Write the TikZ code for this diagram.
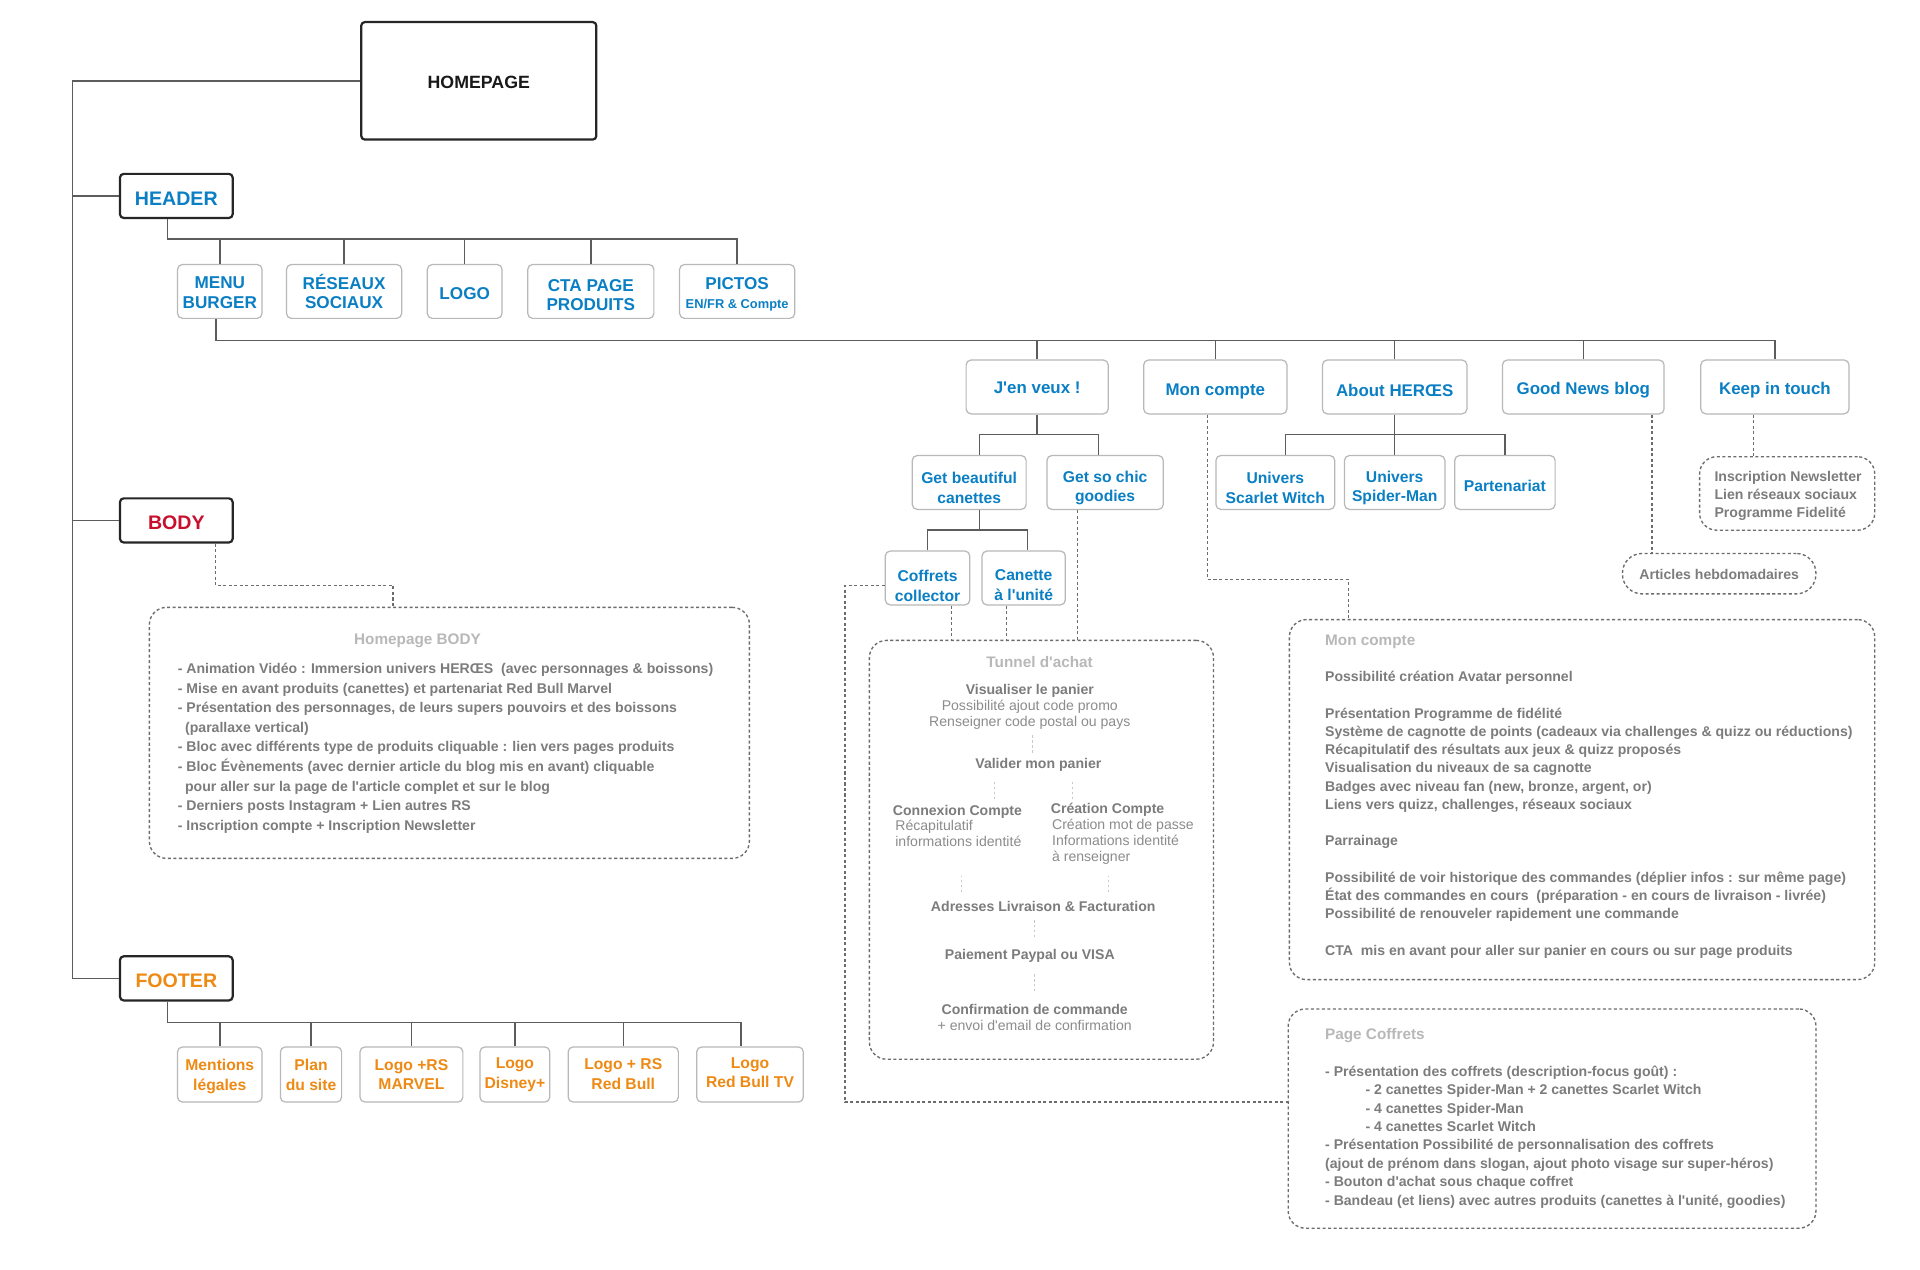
\documentclass[tikz,border=0pt]{standalone}
\usepackage{fontspec}
\setmainfont{Liberation Sans}[Ligatures=TeXOff]
\definecolor{hblue}{HTML}{0A7FC4}
\definecolor{forange}{HTML}{EE8A14}
\definecolor{bred}{HTML}{C8102E}
\definecolor{txtgray}{HTML}{7C7C7C}
\definecolor{lttxt}{HTML}{8C8C8C}
\definecolor{ttlgray}{HTML}{B8B8B8}
\definecolor{lngray}{HTML}{5C5C5C}
\definecolor{bxgray}{HTML}{B8B8B8}
\definecolor{dotgray}{HTML}{C8C8C8}
\newcommand\fsz[2]{\fontsize{#1}{#2}\selectfont}
% name, x1, y1, x2, y2, style, text, text offset (down)
\newcommand\mybox[8]{%
  \node[#6,minimum width={(#4-#2)*1pt},minimum height={(#5-#3)*1pt}] (#1) at ({(#2+#4)/2},{(#3+#5)/2}) {};
  \node[#6,draw=none,fill=none,minimum width=0pt,minimum height=0pt] (#1t) at ([yshift={-(#8)*1pt}]#1.center) {#7};}
\tikzset{
  conn/.style={draw=lngray,line width=1.2pt},
  dconn/.style={draw=lngray!90,line width=1.1pt,dash pattern=on 2.5pt off 2pt},
  tinyl/.style={draw=dotgray,line width=1pt,dash pattern=on 2pt off 2pt},
  mainbox/.style={draw=black!85,line width=1.8pt,rounded corners=3pt,inner sep=0pt,align=center,fill=white,font=\bfseries\fsz{16}{19}},
  childbox/.style={draw=bxgray,line width=1pt,rounded corners=4pt,inner sep=0pt,align=center,fill=white,font=\bfseries\fsz{14}{16}},
  bluebox/.style={childbox,text=hblue},
  menubox/.style={bluebox,font=\bfseries\fsz{13.8}{16}},
  subbox/.style={bluebox,font=\bfseries\fsz{12.8}{16}},
  orbox/.style={childbox,text=forange,font=\bfseries\fsz{12.8}{16}},
  dbox/.style={draw=lngray!90,line width=1.1pt,dash pattern=on 2.5pt off 2pt,rounded corners=14pt,inner sep=0pt},
  ttl/.style={text=ttlgray,font=\bfseries\fsz{12.5}{15},inner sep=0pt},
  listtxt/.style={text=txtgray,font=\bfseries\fsz{11.5}{16},align=left,inner sep=0pt,anchor=west},
  tun/.style={text=lttxt,font=\fsz{11.5}{13},align=center,inner sep=0pt},
}
\begin{document}
\begin{tikzpicture}[x=1pt,y=-1pt]
\useasboundingbox[fill=white] (0,0) rectangle (1568,1037);
% main boxes
\mybox{home}{295}{18}{487}{114}{mainbox,font=\bfseries\fsz{14.5}{17},text=black!90}{HOMEPAGE}{1}
\mybox{header}{98}{142}{190}{178}{mainbox,text=hblue}{HEADER}{2}
\mybox{body}{98}{407}{190}{443}{mainbox,text=bred}{BODY}{2}
\mybox{footer}{98}{781}{190}{817}{mainbox,text=forange}{FOOTER}{2}
\coordinate (spx) at (59,0);
\draw[conn] (home.west) -| (footer.west -| spx) -- (footer.west);
\draw[conn] (header.west) -- (header.west -| spx);
\draw[conn] (body.west) -- (body.west -| spx);
% header children
\mybox{menub}{145}{216}{214}{260}{bluebox}{MENU\\BURGER}{1}
\mybox{reseaux}{234}{216}{328}{260}{bluebox}{RÉSEAUX\\SOCIAUX}{0}
\mybox{logo}{349}{216}{410}{260}{bluebox}{LOGO}{2}
\mybox{cta}{431}{216}{534}{260}{bluebox}{CTA PAGE\\PRODUITS}{3}
\mybox{pictos}{555}{216}{649}{260}{bluebox}{PICTOS\\[-1pt]{\fsz{10.5}{12}EN/FR \& Compte}}{2.5}
\coordinate (hbus) at (0,195);
\draw[conn] ([xshift=-7pt]header.south) |- (pictos.north |- hbus) -- (pictos.north);
\foreach \n in {menub,reseaux,logo,cta} \draw[conn] (\n.north) -- (\n.north |- hbus);
% menu
\mybox{jen}{789}{294}{905}{338}{menubox}{J'en veux !}{1}
\mybox{mon}{934}{294}{1051}{338}{menubox}{Mon compte}{4}
\mybox{about}{1080}{294}{1198}{338}{menubox}{About HERŒS}{3}
\mybox{gnb}{1227}{294}{1359}{338}{menubox}{Good News blog}{3}
\mybox{keep}{1389}{294}{1510}{338}{menubox}{Keep in touch}{3}
\coordinate (mbus) at (0,278);
\draw[conn] ([xshift=-3pt]menub.south) |- (keep.north |- mbus) -- (keep.north);
\foreach \n in {jen,mon,about,gnb} \draw[conn] (\n.north) -- (\n.north |- mbus);
% sub
\mybox{getcan}{745}{372}{838}{416}{subbox}{Get beautiful\\canettes}{4.5}
\mybox{goodies}{855}{372}{950}{416}{subbox}{Get so chic\\goodies}{4.5}
\mybox{coffrets}{723}{450}{792}{494}{subbox}{Coffrets\\collector}{6.5}
\mybox{canette}{802}{450}{870}{494}{subbox}{Canette\\à l'unité}{6}
\mybox{scarlet}{993}{372}{1090}{416}{subbox}{Univers\\Scarlet Witch}{4.5}
\mybox{spider}{1098}{372}{1180}{416}{subbox}{Univers\\Spider-Man}{4.5}
\mybox{parten}{1188}{372}{1270}{416}{subbox}{Partenariat}{3}
\coordinate (jbus) at (0,355);
\coordinate (gcd) at ([xshift=8.5pt]getcan.north);
\coordinate (gsd) at ([xshift=-5.5pt]goodies.north);
\draw[conn] (jen.south) -- (jen.south |- jbus);
\draw[conn] (gcd) |- (gsd |- jbus) -- (gsd);
\coordinate (scd) at ([xshift=8.5pt]scarlet.north);
\draw[conn] (about.south) -- (about.south |- jbus);
\draw[conn] (scd) |- (parten.north |- jbus) -- (parten.north);
\draw[conn] (spider.north) -- (spider.north |- jbus);
\coordinate (gbus) at (0,433);
\coordinate (gcs) at ([xshift=8.5pt]getcan.south);
\coordinate (cnd) at ([xshift=3pt]canette.north);
\draw[conn] (gcs) -- (gcs |- gbus);
\draw[conn] (coffrets.north) |- (cnd |- gbus) -- (cnd);
% footer
\mybox{mentions}{145}{855}{214}{900}{orbox}{Mentions\\légales}{1.5}
\mybox{plan}{229}{855}{279}{900}{orbox}{Plan\\du site}{0.5}
\mybox{marvel}{294}{855}{378}{900}{orbox}{Logo +RS\\MARVEL}{0}
\mybox{disney}{392}{855}{449}{900}{orbox}{Logo\\Disney+}{0}
\mybox{redbull}{464}{855}{554}{900}{orbox}{Logo + RS\\Red Bull}{-0.5}
\mybox{rbtv}{569}{855}{656}{900}{orbox}{Logo\\Red Bull TV}{-1.5}
\coordinate (fbus) at (0,835);
\coordinate (rbd) at ([xshift=-7.5pt]rbtv.north);
\draw[conn] ([xshift=-7pt]footer.south) |- (rbd |- fbus) -- (rbd);
\foreach \n in {mentions,plan,marvel,disney,redbull} \draw[conn] (\n.north) -- (\n.north |- fbus);
% dashed boxes
\node[dbox,minimum width=143pt,minimum height=60pt] (keepbox) at (1459.5,403) {};
\node[dbox,rounded corners=16pt,minimum width=158pt,minimum height=33pt] (articles) at (1404,468.5) {};
\node[dbox,minimum width=490pt,minimum height=205pt] (bodybox) at (367,598.5) {};
\node[dbox,minimum width=281pt,minimum height=342pt] (tunnel) at (850.5,694) {};
\node[dbox,minimum width=478pt,minimum height=294pt] (moncbox) at (1292,653) {};
\node[dbox,minimum width=431pt,minimum height=179pt] (pagecof) at (1267.5,913.5) {};
% dashed connectors
\coordinate (kd) at ([xshift=-17.5pt]keep.south);
\draw[dconn] (kd) -- (kd |- keepbox.north);
\coordinate (gd) at ([xshift=56pt]gnb.south);
\draw[dconn] (gd) -- (gd |- articles.north);
\coordinate (md) at ([xshift=-6.5pt]mon.south);
\coordinate (mbend) at (1101,473);
\draw[dconn] (md) |- (mbend) -- (mbend |- moncbox.north);
\coordinate (bd) at ([xshift=32pt]body.south);
\coordinate (bbend) at (321,478);
\draw[dconn] (bd) |- (bbend) -- (bbend |- bodybox.north);
\coordinate (cfw) at ([yshift=-6pt]coffrets.west);
\coordinate (cfbend) at (690,900);
\draw[dconn] (cfw) -| (cfbend) -- (cfbend -| pagecof.west);
\coordinate (cft) at ([xshift=19.5pt]coffrets.south);
\coordinate (cnt) at ([xshift=-14pt]canette.south);
\coordinate (gst) at ([xshift=-22.5pt]goodies.south);
\draw[dconn] (cft) -- (cft |- tunnel.north);
\draw[dconn] (cnt) -- (cnt |- tunnel.north);
\draw[dconn] (gst) -- (gst |- tunnel.north);
% texts
\node[listtxt,font=\bfseries\fsz{11.5}{15}] (keeptxt) at (1400,405) {Inscription Newsletter\\Lien réseaux sociaux\\Programme Fidelité};
\node[text=txtgray,font=\bfseries\fsz{11.5}{14},inner sep=0pt] (arttxt) at (1404,469) {Articles hebdomadaires};
\node[ttl] (bodyttl) at (341,523) {Homepage BODY};
\node[listtxt] (bodytxt) at (145,611) {- Animation Vidéo : Immersion univers HERŒS\ \ (avec personnages \& boissons)\\- Mise en avant produits (canettes) et partenariat Red Bull Marvel\\- Présentation des personnages, de leurs supers pouvoirs et des boissons\\\hspace*{6pt}(parallaxe vertical)\\- Bloc avec différents type de produits cliquable : lien vers pages produits\\- Bloc Évènements (avec dernier article du blog mis en avant) cliquable\\\hspace*{6pt}pour aller sur la page de l'article complet et sur le blog\\- Derniers posts Instagram + Lien autres RS\\- Inscription compte + Inscription Newsletter};
\node[ttl,anchor=west] (monttl) at (1082,524) {Mon compte};
\node[listtxt,font=\bfseries\fsz{11.5}{14.9}] (montxt) at (1082,665.5) {Possibilité création Avatar personnel\\[14.9pt]Présentation Programme de fidélité\\Système de cagnotte de points (cadeaux via challenges \& quizz ou réductions)\\Récapitulatif des résultats aux jeux \& quizz proposés\\Visualisation du niveaux de sa cagnotte\\Badges avec niveau fan (new, bronze, argent, or)\\Liens vers quizz, challenges, réseaux sociaux\\[14.9pt]Parrainage\\[14.9pt]Possibilité de voir historique des commandes (déplier infos : sur même page)\\État des commandes en cours\ \ (préparation - en cours de livraison - livrée)\\Possibilité de renouveler rapidement une commande\\[14.9pt]CTA\ \ mis en avant pour aller sur panier en cours ou sur page produits};
\node[ttl,anchor=west] (pcttl) at (1082,846) {Page Coffrets};
\node[listtxt,font=\bfseries\fsz{11.5}{15}] (pctxt) at (1082,928.5) {- Présentation des coffrets (description-focus goût) :\\\hspace*{33pt}- 2 canettes Spider-Man + 2 canettes Scarlet Witch\\\hspace*{33pt}- 4 canettes Spider-Man\\\hspace*{33pt}- 4 canettes Scarlet Witch\\- Présentation Possibilité de personnalisation des coffrets\\(ajout de prénom dans slogan, ajout photo visage sur super-héros)\\- Bouton d'achat sous chaque coffret\\- Bandeau (et liens) avec autres produits (canettes à l'unité, goodies)};
% tunnel
\node[ttl] (tunttl) at (849,541) {Tunnel d'achat};
\node[tun] (vis) at (841,577) {\textbf{\color{txtgray}Visualiser le panier}\\Possibilité ajout code promo\\Renseigner code postal ou pays};
\node[tun,font=\bfseries\fsz{11.5}{13},text=txtgray] (valider) at (848,625) {Valider mon panier};
\node[tun,align=left,anchor=west] (connexion) at (729,674.5) {\textbf{\color{txtgray}Connexion Compte}\\\hspace*{2pt}Récapitulatif\\\hspace*{2pt}informations identité};
\node[tun,align=left,anchor=west] (creation) at (858,681) {\textbf{\color{txtgray}Création Compte}\\\hspace*{1pt}Création mot de passe\\\hspace*{1pt}Informations identité\\\hspace*{1pt}à renseigner};
\node[tun,font=\bfseries\fsz{11.5}{13},text=txtgray] (adresses) at (852,740) {Adresses Livraison \& Facturation};
\node[tun,font=\bfseries\fsz{11.5}{13},text=txtgray] (paiement) at (841,781) {Paiement Paypal ou VISA};
\node[tun] (confirm) at (845,831) {\textbf{\color{txtgray}Confirmation de commande}\\+ envoi d'email de confirmation};
\draw[tinyl] ([shift={(2,5)}]vis.south) -- ++(0,14);
\draw[tinyl] ([shift={(-36,8)}]valider.south) -- ++(0,15);
\draw[tinyl] ([shift={(28,8)}]valider.south) -- ++(0,15);
\draw[tinyl] ([shift={(-67,-7)}]adresses.north) -- ++(0,-13);
\draw[tinyl] ([shift={(53,-7)}]adresses.north) -- ++(0,-13);
\draw[tinyl] ([shift={(-7,7)}]adresses.south) -- ++(0,14);
\draw[tinyl] ([shift={(4,9)}]paiement.south) -- ++(0,14);
\end{tikzpicture}
\end{document}
